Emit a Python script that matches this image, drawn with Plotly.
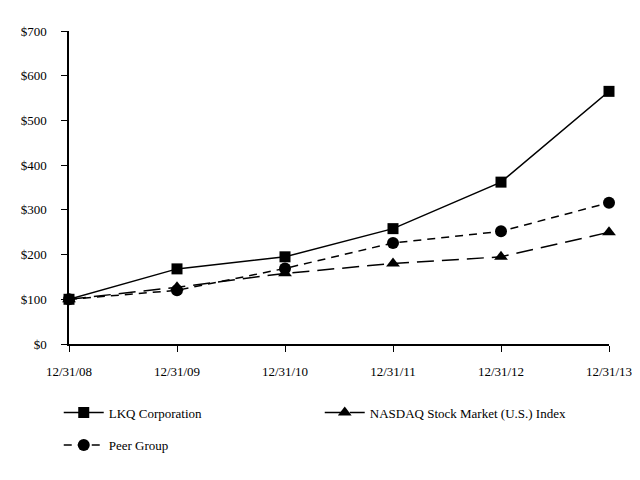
import plotly.graph_objects as go

dates = ["12/31/08", "12/31/09", "12/31/10", "12/31/11", "12/31/12", "12/31/13"]
lkq = [100, 168, 195, 258, 362, 565]
nasdaq = [100, 127, 158, 180, 195, 250]
peer = [100, 120, 169, 226, 252, 316]
y_ticks = [0, 100, 200, 300, 400, 500, 600, 700]

font = dict(family="Liberation Serif, Times New Roman, serif", size=13, color="black")

fig = go.Figure()
fig.add_trace(go.Scatter(x=dates, y=lkq, name="LKQ Corporation", mode="lines+markers",
                         line=dict(color="black", width=1.5, dash="solid"),
                         marker=dict(symbol="square", size=11, color="black"), cliponaxis=False,
                         legend="legend"))
fig.add_trace(go.Scatter(x=dates, y=nasdaq, name="NASDAQ Stock Market (U.S.) Index", mode="lines+markers",
                         line=dict(color="black", width=1.5, dash="17px,8px"),
                         marker=dict(symbol="triangle-up", size=12, color="black"), cliponaxis=False,
                         legend="legend"))
fig.add_trace(go.Scatter(x=dates, y=peer, name="Peer Group", mode="lines+markers",
                         line=dict(color="black", width=1.5, dash="8px,6px"),
                         marker=dict(symbol="circle", size=12, color="black"), cliponaxis=False,
                         legend="legend2"))

fig.update_layout(
    width=624, height=464,
    margin=dict(l=61, r=23, t=23, b=125),
    paper_bgcolor="white", plot_bgcolor="white",
    font=font,
    legend=dict(orientation="h", x=-0.019, y=-0.171, xanchor="left", yanchor="top",
                entrywidth=206, entrywidthmode="pixels", itemwidth=40, font=font),
    legend2=dict(orientation="h", x=-0.019, y=-0.275, xanchor="left", yanchor="top",
                 itemwidth=40, font=font),
    showlegend=True,
)
fig.update_xaxes(type="category", range=[0, 5], showline=True, linecolor="black", linewidth=1.5,
                 ticks="outside", ticklen=6, tickcolor="black", showgrid=False, zeroline=False,
                 tickfont=font, ticklabelstandoff=9, automargin=False)
fig.update_yaxes(range=[0, 700], tickvals=y_ticks, ticktext=["$" + str(v) for v in y_ticks],
                 showline=True, linecolor="black", linewidth=1.5,
                 ticks="outside", ticklen=6, tickcolor="black", showgrid=False, zeroline=False,
                 tickfont=font, ticklabelstandoff=12, automargin=False)

fig.write_html("out.html")
